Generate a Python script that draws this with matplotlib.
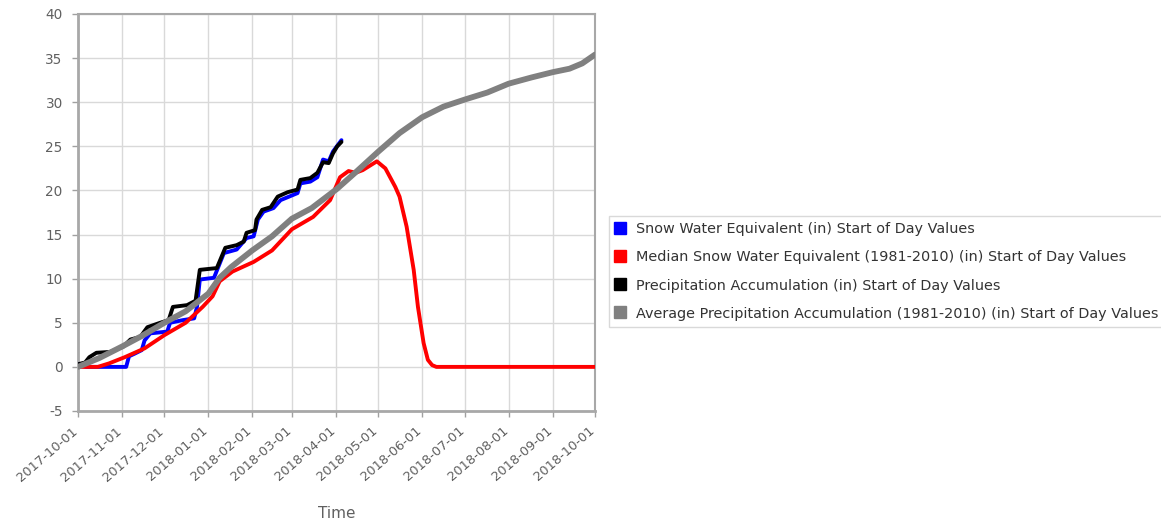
import datetime as dt
import matplotlib
matplotlib.use("Agg")
import matplotlib.pyplot as plt
import matplotlib.transforms as mtransforms
from matplotlib.lines import Line2D

# Days since the start of the water year (2017-10-01) and values in inches
swe_day = [0, 3, 6, 34, 36, 40, 45, 47, 51, 63, 65, 74, 82, 84, 86, 96, 103, 112,
           119, 124, 127, 131, 138, 143, 155, 157, 164, 169, 173, 177, 180, 186]
swe_in = [0.3, 0.1, 0.0, 0.0, 1.2, 1.5, 1.9, 3.0, 3.8, 4.0, 5.0, 5.3, 5.5, 6.8, 9.9,
          10.1, 12.9, 13.3, 14.6, 14.8, 16.7, 17.6, 18.0, 18.9, 19.7, 20.8, 21.0,
          21.5, 23.5, 23.3, 24.4, 25.7]

median_swe_day = [0, 14, 22, 33, 47, 61, 76, 88, 95, 100, 109, 124, 137, 151, 166,
                  178, 185, 191, 196, 201, 211, 217, 224, 227, 232, 237, 240, 244,
                  247, 250, 253, 365]
median_swe_in = [0.0, 0.0, 0.4, 1.1, 2.1, 3.6, 5.0, 6.8, 8.0, 9.7, 10.8, 11.9, 13.2,
                 15.6, 17.0, 18.9, 21.5, 22.2, 22.0, 22.3, 23.3, 22.5, 20.4, 19.3,
                 15.9, 11.0, 6.8, 2.7, 0.8, 0.2, 0.0, 0.0]

precip_day = [0, 5, 8, 13, 23, 32, 37, 44, 49, 58, 64, 67, 77, 83, 86, 98, 104, 112,
              117, 119, 125, 126, 130, 136, 141, 148, 155, 157, 164, 169, 173, 177,
              180, 183, 186]
precip_in = [0.3, 0.5, 1.1, 1.6, 1.7, 2.3, 3.1, 3.4, 4.5, 5.0, 5.3, 6.8, 7.0, 7.5,
             11.0, 11.2, 13.5, 13.8, 14.2, 15.2, 15.5, 16.7, 17.8, 18.1, 19.3, 19.8,
             20.1, 21.2, 21.4, 22.0, 23.2, 23.1, 24.2, 25.0, 25.5]

avg_precip_day = [0, 15, 31, 45, 61, 76, 92, 100, 108, 123, 137, 151, 165, 183, 197,
                  212, 227, 243, 258, 273, 289, 304, 320, 335, 347, 356, 365]
avg_precip_in = [0.0, 1.0, 2.3, 3.5, 5.0, 6.3, 8.3, 10.1, 11.3, 13.2, 14.8, 16.8,
                 18.0, 20.2, 22.2, 24.4, 26.5, 28.3, 29.5, 30.3, 31.1, 32.1, 32.8,
                 33.4, 33.8, 34.4, 35.4]

series_labels = [
    "Snow Water Equivalent (in) Start of Day Values",
    "Median Snow Water Equivalent (1981-2010) (in) Start of Day Values",
    "Precipitation Accumulation (in) Start of Day Values",
    "Average Precipitation Accumulation (1981-2010) (in) Start of Day Values",
]
series_colors = ["#0000ff", "#ff0000", "#000000", "#808080"]

month_ticks = ["2017-10-01", "2017-11-01", "2017-12-01", "2018-01-01", "2018-02-01",
               "2018-03-01", "2018-04-01", "2018-05-01", "2018-06-01", "2018-07-01",
               "2018-08-01", "2018-09-01", "2018-10-01"]
y_ticks = [-5, 0, 5, 10, 15, 20, 25, 30, 35, 40]

start = dt.date(2017, 10, 1)


def to_dates(days):
    return [start + dt.timedelta(days=d) for d in days]


plt.rcParams["font.family"] = ["DejaVu Sans"]
fig = plt.figure(figsize=(11.61, 5.25), dpi=100)
ax = fig.add_axes([78 / 1161, 1 - 411 / 525, (595 - 78) / 1161, (411 - 14) / 525])

series = [
    (swe_day, swe_in, 2.8),
    (median_swe_day, median_swe_in, 2.8),
    (precip_day, precip_in, 2.8),
    (avg_precip_day, avg_precip_in, 4.2),
]
for i, ((days, vals, lw), color) in enumerate(zip(series, series_colors)):
    ax.plot(to_dates(days), vals, color=color, lw=lw, solid_joinstyle="round",
            solid_capstyle="round", zorder=3 + i)

tick_dates = [dt.date.fromisoformat(s) for s in month_ticks]
ax.set_xlim(tick_dates[0], tick_dates[-1])
ax.set_ylim(-5, 40)
ax.set_xticks(tick_dates)
ax.set_xticklabels(month_ticks, rotation=41, ha="right", va="baseline",
                   rotation_mode="anchor", fontsize=9.4, color="#606060")
shift = mtransforms.ScaledTranslation(9 / 100, 0, fig.dpi_scale_trans)
for lab in ax.get_xticklabels():
    lab.set_transform(lab.get_transform() + shift)
ax.set_yticks(y_ticks)
ax.set_yticklabels([str(v) for v in y_ticks], fontsize=9.8, color="#606060")
ax.tick_params(axis="both", length=4, width=1, color="#a0a0a0")
ax.tick_params(axis="x", pad=11)
ax.tick_params(axis="y", pad=7)

ax.grid(True, color="#d9d9d9", lw=1)
ax.set_axisbelow(True)
for side, spine in ax.spines.items():
    spine.set_color("#a8a8a8")
    spine.set_linewidth(2 if side in ("left", "bottom") else 1.5)

fig.text(336.5 / 1161, 1 - 513 / 525, "Time", ha="center", va="center",
         fontsize=11, color="#606060")

handles = [Line2D([], [], marker="s", linestyle="none", markersize=9,
                  markerfacecolor=c, markeredgecolor=c) for c in series_colors]
leg = fig.legend(handles, series_labels, loc="center left",
                 bbox_to_anchor=(609 / 1161, 1 - 271.5 / 525), fontsize=10.4,
                 frameon=True, fancybox=False, edgecolor="#d0d0d0",
                 handlelength=0.7, handletextpad=0.75, labelspacing=0.97,
                 borderpad=0.42, borderaxespad=0)
leg.get_frame().set_linewidth(1)
for t in leg.get_texts():
    t.set_color("#333333")

fig.savefig("out.png", dpi=100)
